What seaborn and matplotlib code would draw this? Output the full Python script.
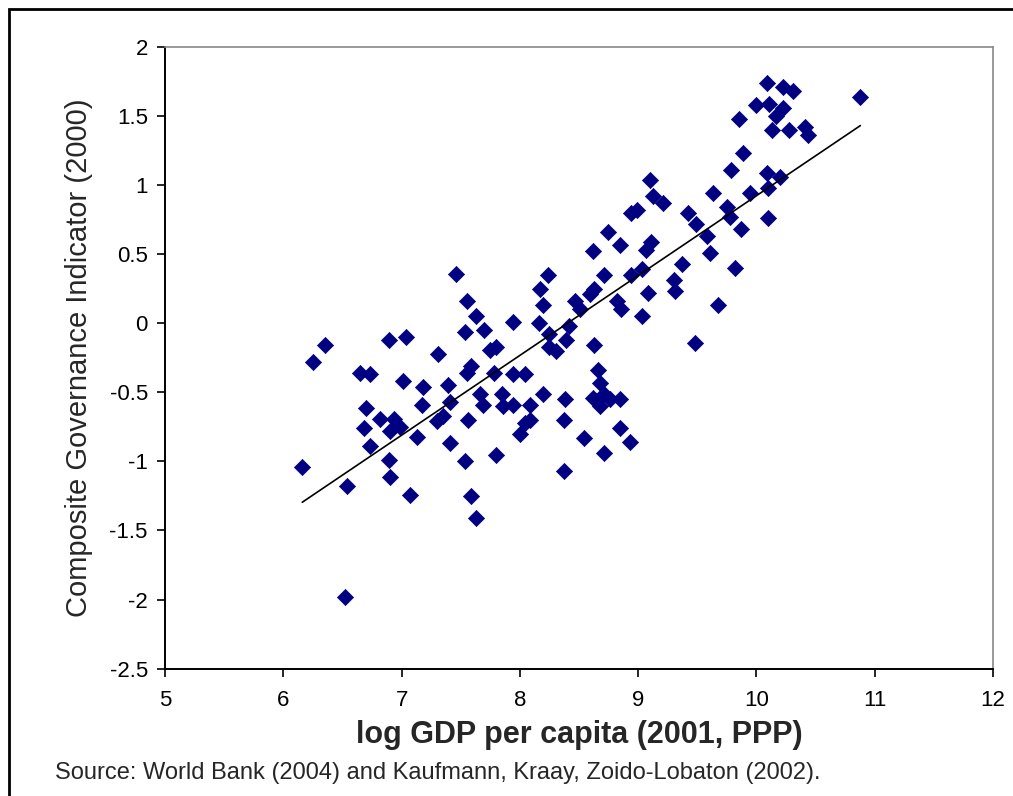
import numpy as np
import pandas as pd
import seaborn as sns
import matplotlib.pyplot as plt
from matplotlib.patches import Rectangle

# log GDP per capita (x) and composite governance indicator (y)
log_gdp = [
    7.46, 7.55, 7.63, 7.54, 7.70, 7.94, 6.35, 6.25, 6.89, 7.04, 7.31, 7.75, 7.80,
    6.65, 6.73, 7.01, 7.18, 7.39, 7.55, 7.59, 7.78, 7.94, 8.04, 7.17, 7.41, 7.66,
    7.69, 7.85, 7.86, 7.94, 6.70, 6.82, 6.94, 6.68, 6.90, 6.99, 7.13, 7.30, 7.35,
    7.56, 6.73, 6.89, 6.90, 7.41, 7.54, 7.80, 6.16, 6.54, 7.07, 7.59, 7.63, 6.52,
    9.10, 9.13, 9.21, 8.99, 8.94, 9.63, 9.75, 9.78, 9.87, 9.42, 9.49, 9.58, 9.61,
    8.75, 8.85, 8.62, 9.11, 9.07, 9.37, 9.82, 8.24, 8.71, 8.94, 9.03, 9.30, 9.31,
    8.17, 8.63, 8.59, 9.08, 8.20, 8.47, 8.51, 8.82, 8.86, 9.03, 9.68, 8.16, 8.25,
    8.42, 8.39, 8.31, 8.25, 8.63, 9.48, 8.66, 8.68, 8.71, 8.62, 8.76, 8.85, 8.68,
    8.20, 8.38, 8.09, 8.04, 8.00, 8.09, 8.37, 8.85, 8.93, 8.54, 8.71, 8.37,
    10.09, 10.23, 10.31, 10.88, 10.00, 10.11, 10.23, 9.85, 10.17, 10.13, 10.28,
    10.41, 10.44, 9.89, 9.79, 10.09, 10.20, 10.10, 9.95, 10.10,
]
governance = [
    0.36, 0.16, 0.05, -0.06, -0.05, 0.01, -0.16, -0.28, -0.12, -0.10, -0.22, -0.19, -0.17,
    -0.36, -0.37, -0.42, -0.46, -0.45, -0.36, -0.31, -0.36, -0.37, -0.37, -0.59, -0.57, -0.51,
    -0.59, -0.51, -0.60, -0.59, -0.61, -0.69, -0.69, -0.76, -0.78, -0.75, -0.82, -0.71, -0.67,
    -0.70, -0.89, -0.99, -1.11, -0.87, -1.00, -0.95, -1.04, -1.18, -1.24, -1.25, -1.41, -1.98,
    1.04, 0.92, 0.87, 0.82, 0.80, 0.94, 0.84, 0.77, 0.68, 0.80, 0.72, 0.63, 0.51,
    0.66, 0.57, 0.52, 0.59, 0.53, 0.43, 0.40, 0.35, 0.35, 0.35, 0.39, 0.31, 0.23,
    0.25, 0.25, 0.21, 0.22, 0.13, 0.16, 0.10, 0.16, 0.10, 0.05, 0.13, 0.00, -0.08,
    -0.02, -0.12, -0.20, -0.17, -0.16, -0.14, -0.34, -0.43, -0.51, -0.54, -0.55, -0.55, -0.60,
    -0.51, -0.55, -0.59, -0.72, -0.80, -0.70, -0.70, -0.76, -0.86, -0.83, -0.94, -1.07,
    1.74, 1.71, 1.68, 1.64, 1.58, 1.59, 1.56, 1.48, 1.50, 1.40, 1.40,
    1.42, 1.36, 1.23, 1.11, 1.09, 1.06, 0.98, 0.94, 0.76,
]
x_ticks = [5, 6, 7, 8, 9, 10, 11, 12]
y_ticks = [-2.5, -2, -1.5, -1, -0.5, 0, 0.5, 1, 1.5, 2]

df = pd.DataFrame({"gdp": log_gdp, "gov": governance})

sns.set_style("white")
plt.rcParams["font.family"] = ["Liberation Sans", "DejaVu Sans"]

fig = plt.figure(figsize=(10.13, 7.96), dpi=100)
ax = fig.add_axes([0.163, 0.160, 0.817, 0.781])

sns.scatterplot(data=df, x="gdp", y="gov", marker="D", s=68,
                color="#000080", edgecolor="#000080", linewidth=0.5, ax=ax)
sns.regplot(data=df, x="gdp", y="gov", scatter=False, ci=None, ax=ax,
            line_kws=dict(color="black", lw=1.2))

ax.set_xlim(5, 12)
ax.set_ylim(-2.5, 2)
ax.set_xticks(x_ticks)
ax.set_yticks(y_ticks)
ax.set_xticklabels([str(t) for t in x_ticks])
ax.set_yticklabels([f"{t:g}" for t in y_ticks])
ax.tick_params(axis="both", direction="out", length=5.5, width=1.2, labelsize=16,
               colors="black", bottom=True, left=True)
ax.tick_params(axis="x", pad=10)
ax.tick_params(axis="y", pad=7)

# Excel-like frame: black axes, grey top/right
for side in ["left", "bottom"]:
    ax.spines[side].set_color("black")
    ax.spines[side].set_linewidth(1.4)
for side in ["top", "right"]:
    ax.spines[side].set_color("#888888")
    ax.spines[side].set_linewidth(1.2)

ax.set_xlabel("log GDP per capita (2001, PPP)", fontsize=22, fontweight="bold",
              labelpad=6)
ax.set_ylabel("Composite Governance Indicator (2000)", fontsize=21, labelpad=12)

fig.text(55 / 1013, 1 - 773 / 796,
         "Source: World Bank (2004) and Kaufmann, Kraay, Zoido-Lobaton (2002).",
         fontsize=17, va="center", ha="left")

# outer border
fig.patches.append(Rectangle((9 / 1013, -0.05), 1.2, 1 - 9 / 796 + 0.05,
                             transform=fig.transFigure, fill=False,
                             edgecolor="black", lw=2))

fig.savefig("out.png", dpi=100)
